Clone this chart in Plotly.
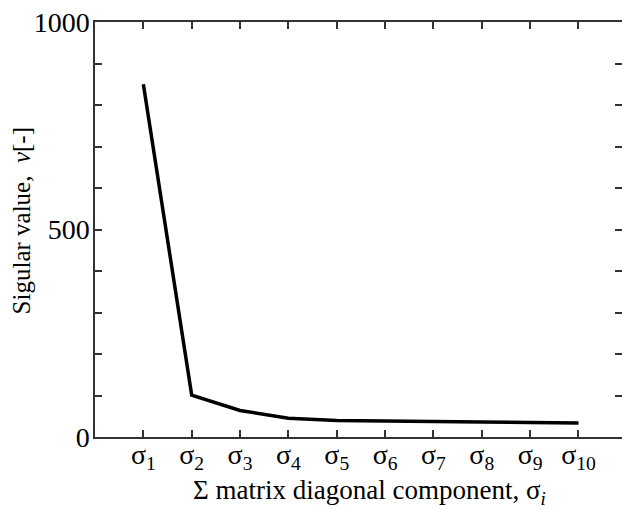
import plotly.graph_objects as go

categories = ["σ<sub>1</sub>", "σ<sub>2</sub>", "σ<sub>3</sub>", "σ<sub>4</sub>", "σ<sub>5</sub>",
              "σ<sub>6</sub>", "σ<sub>7</sub>", "σ<sub>8</sub>", "σ<sub>9</sub>", "σ<sub>10</sub>"]
x_index = [1, 2, 3, 4, 5, 6, 7, 8, 9, 10]
singular_values = [850, 101, 64, 45, 40, 38, 37, 36, 35, 34]

y_tick_vals = [0, 100, 200, 300, 400, 500, 600, 700, 800, 900, 1000]
y_tick_text = ["0", "", "", "", "", "500", "", "", "", "", "1000"]

x_title = "Σ matrix diagonal component, σ<sub><i>i</i></sub>"
y_title = "Sigular value,  <i>v</i>[-]"

font_family = "Liberation Serif, Times New Roman, serif"

fig = go.Figure()
fig.add_trace(go.Scatter(
    x=x_index, y=singular_values, mode="lines",
    line=dict(color="black", width=3.5),
    showlegend=False,
))

axis_common = dict(
    showgrid=False, zeroline=False, showline=True, linecolor="#333333", linewidth=1.5,
    mirror="ticks", ticks="inside", ticklen=7, tickwidth=1.5, tickcolor="#333333",
    automargin=False,
)

fig.update_xaxes(
    range=[0, 10.9], tickvals=x_index, ticktext=categories,
    tickfont=dict(family=font_family, size=28, color="black"),
    ticklabelstandoff=-8,
    **axis_common,
)
fig.update_yaxes(
    range=[0, 1000], tickvals=y_tick_vals, ticktext=y_tick_text,
    tickfont=dict(family=font_family, size=28, color="black"),
    ticklabelstandoff=-2,
    **axis_common,
)

fig.add_annotation(
    text=x_title, xref="paper", yref="paper", x=0.52, y=-0.087,
    xanchor="center", yanchor="top", showarrow=False,
    font=dict(family=font_family, size=27, color="black"),
)
fig.add_annotation(
    text=y_title, xref="paper", yref="paper", x=-0.14, y=0.52,
    xanchor="center", yanchor="middle", showarrow=False, textangle=-90,
    font=dict(family=font_family, size=25, color="black"),
)

fig.update_layout(
    width=622, height=510,
    margin=dict(l=95, r=0, t=22, b=73),
    paper_bgcolor="white", plot_bgcolor="white",
)

fig.write_html("out.html", config={"displayModeBar": False},
               post_script="document.body.style.margin='0';")
